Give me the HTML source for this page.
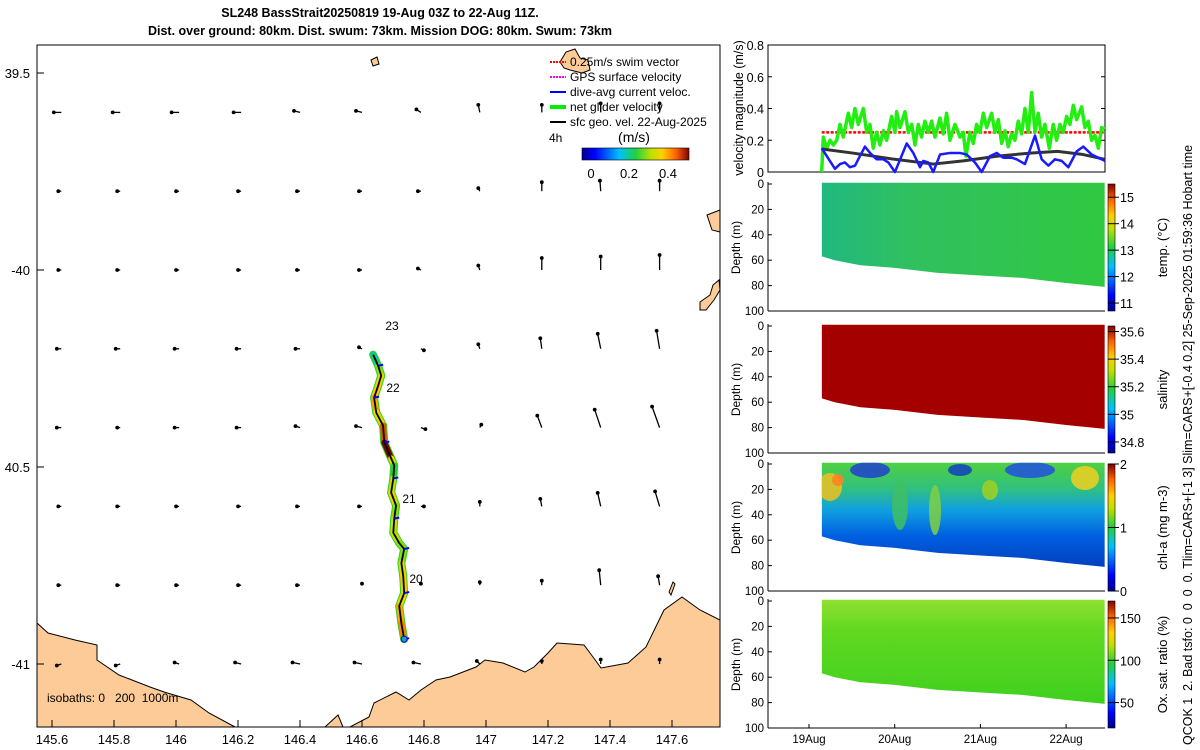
<!DOCTYPE html>
<html><head><meta charset="utf-8"><style>
body{margin:0;background:#fff}
svg{display:block;font-family:"Liberation Sans",sans-serif}
.pre{white-space:pre}
</style></head><body>
<svg id="root" width="1200" height="750" viewBox="0 0 1200 750">
<defs>
<linearGradient id="jetH" x1="0" x2="1" y1="0" y2="0">
<stop offset="0" stop-color="#00008f"/><stop offset="0.12" stop-color="#0000ff"/><stop offset="0.35" stop-color="#00c0ff"/><stop offset="0.5" stop-color="#20d040"/><stop offset="0.65" stop-color="#c0e000"/><stop offset="0.75" stop-color="#ffd000"/><stop offset="0.88" stop-color="#ff6000"/><stop offset="1" stop-color="#800000"/></linearGradient>
<linearGradient id="jetV" x1="0" x2="0" y1="1" y2="0">
<stop offset="0" stop-color="#00008f"/><stop offset="0.12" stop-color="#0000ff"/><stop offset="0.35" stop-color="#00c0ff"/><stop offset="0.5" stop-color="#20d040"/><stop offset="0.65" stop-color="#c0e000"/><stop offset="0.75" stop-color="#ffd000"/><stop offset="0.88" stop-color="#ff6000"/><stop offset="1" stop-color="#800000"/></linearGradient>
<linearGradient id="chlG" x1="0" x2="0" y1="0" y2="1">
<stop offset="0" stop-color="#50d040"/><stop offset="0.25" stop-color="#30c080"/><stop offset="0.45" stop-color="#10a0e0"/><stop offset="0.7" stop-color="#0060e0"/><stop offset="1" stop-color="#0040c0"/></linearGradient>
<linearGradient id="oxG" x1="0" x2="0" y1="0" y2="1">
<stop offset="0" stop-color="#90e030"/><stop offset="0.3" stop-color="#60d820"/><stop offset="1" stop-color="#40d020"/></linearGradient>
<linearGradient id="tempG" x1="0" x2="1" y1="0" y2="0">
<stop offset="0" stop-color="#20b880"/><stop offset="0.3" stop-color="#30c060"/><stop offset="1" stop-color="#30c840"/></linearGradient>
</defs>

<text x="380" y="17" text-anchor="middle" font-size="12.5" font-weight="bold">SL248 BassStrait20250819 19-Aug 03Z to 22-Aug 11Z.</text>
<text x="380" y="35" text-anchor="middle" font-size="12.5" font-weight="bold">Dist. over ground: 80km. Dist. swum: 73km. Mission DOG: 80km. Swum: 73km</text>
<text class="pre" transform="translate(1192,745) rotate(-90)" font-size="12.5">QCOK 1  2. Bad tsfo: 0  0  0  0. Tlim=CARS+[-1 3] Slim=CARS+[-0.4 0.2] 25-Sep-2025 01:59:36 Hobart time</text>

<g id="map">
<path fill="#fccb98" stroke="#000" stroke-width="1" d="M37,623 L48,633 L75,640 L97,645 L97,660 L119,675 L150,687 L164,692 L191,700 L209,713 L235,727 L37,727 Z"/>
<path fill="#fccb98" stroke="#000" stroke-width="1" d="M325,727 L338,715 L343,727 L350,727 L369,717 L374,703 L396,692 L409,700 L421,690 L436,680 L450,677 L476,667 L485,660 L503,663 L525,672 L534,667 L548,653 L557,643 L584,645 L593,657 L601,668 L628,663 L646,647 L664,610 L682,597 L700,610 L720,620 L720,727 Z"/>
<path fill="#fccb98" stroke="#000" d="M371,60 L377,57 L379,64 L373,66 Z"/>
<path fill="#fccb98" stroke="#000" d="M560,62 L566,52 L575,49 L580,58 L588,60 L590,70 L582,73 L570,70 L564,68 Z"/>
<path fill="#fccb98" stroke="#000" d="M707,215 L720,210 L720,232 L712,230 Z"/>
<path fill="#fccb98" stroke="#000" d="M700,302 L710,295 L713,285 L719,280 L720,290 L714,300 L706,310 L700,310 Z"/>
<path fill="#fccb98" stroke="#000" d="M669,592 L673,582 L675,584 L671,595 Z"/>
<rect x="37" y="45" width="683" height="682" fill="none" stroke="#000" stroke-width="1"/>
<g id="quiver"></g>
<g id="track"></g>
<g id="mapAxes"></g>
<text x="392" y="330" text-anchor="middle" font-size="12">23</text>
<text x="393" y="392" text-anchor="middle" font-size="12">22</text>
<text x="409" y="503" text-anchor="middle" font-size="12">21</text>
<text x="416" y="583" text-anchor="middle" font-size="12">20</text>
<text class="pre" x="47" y="702" font-size="12">isobaths: 0   200  1000m</text>
<g font-size="12">
<line x1="550" y1="62" x2="566" y2="62" stroke="#f00" stroke-width="2" stroke-dasharray="2 1"/><text x="570" y="66">0.25m/s swim vector</text>
<line x1="550" y1="77" x2="566" y2="77" stroke="#f0f" stroke-width="2" stroke-dasharray="2 1"/><text x="570" y="81">GPS surface velocity</text>
<line x1="550" y1="92" x2="566" y2="92" stroke="#00f" stroke-width="2"/><text x="570" y="96">dive-avg current veloc.</text>
<line x1="550" y1="107" x2="566" y2="107" stroke="#00ee00" stroke-width="4"/><text x="570" y="111">net glider velocity</text>
<line x1="550" y1="122" x2="566" y2="122" stroke="#000" stroke-width="2"/><text x="570" y="126">sfc geo. vel. 22-Aug-2025</text>
<text x="549" y="142">4h</text>
<text x="634" y="142" text-anchor="middle" font-size="14">(m/s)</text>
<rect x="582" y="148" width="107" height="12" fill="url(#jetH)" stroke="#000" stroke-width="0.6"/>
<text x="591" y="178" text-anchor="middle" font-size="13">0</text>
<text x="629" y="178" text-anchor="middle" font-size="13">0.2</text>
<text x="668" y="178" text-anchor="middle" font-size="13">0.4</text>
</g>
</g>

<g id="vel"></g>
<g id="sections"></g>
</svg>

<script>
const greenT=[0.148,0.167,0.206,0.245,0.284,0.323,0.362,0.40,0.459,0.498,0.536,0.575,0.634,0.673,0.711,0.75,0.789,0.828,0.867,0.906,0.964,1.003,1.023,1.062,1.12,1.159,1.198,1.237,1.275,1.314,1.353,1.392,1.431,1.47,1.528,1.567,1.606,1.645,1.703,1.762,1.8,1.832,1.878,1.917,1.956,1.995,2.034,2.073,2.131,2.17,2.209,2.248,2.287,2.325,2.364,2.403,2.442,2.481,2.52,2.559,2.598,2.637,2.675,2.714,2.753,2.804,2.85,2.889,2.928,2.967,3.006,3.045,3.084,3.123,3.181,3.22,3.259,3.298,3.337,3.376,3.414,3.453];
const greenV=[0,0.22,0.15,0.2,0.17,0.2,0.3,0.22,0.37,0.28,0.4,0.3,0.4,0.25,0.3,0.15,0.25,0.17,0.26,0.2,0.35,0.25,0.38,0.28,0.38,0.25,0.3,0.17,0.3,0.22,0.32,0.25,0.32,0.22,0.34,0.24,0.37,0.2,0.3,0.22,0.25,0.1,0.25,0.18,0.3,0.25,0.37,0.28,0.37,0.25,0.33,0.18,0.26,0.16,0.24,0.2,0.32,0.24,0.4,0.25,0.5,0.25,0.37,0.22,0.3,0.15,0.3,0.2,0.3,0.25,0.35,0.3,0.42,0.33,0.41,0.28,0.32,0.2,0.23,0.15,0.28,0.27];
const blueT=[0.148,0.303,0.362,0.42,0.478,0.537,0.575,0.653,0.712,0.79,0.867,0.926,1.003,1.14,1.217,1.295,1.334,1.392,1.45,1.529,1.645,1.762,1.84,1.937,2.015,2.112,2.19,2.267,2.365,2.423,2.52,2.637,2.715,2.793,2.87,2.948,3.026,3.123,3.2,3.299,3.376,3.454];
const blueV=[0.15,0.02,0.05,0.06,0.03,0.04,0.08,0.16,0.12,0.08,0.08,0.06,0.0,0.18,0.12,0.03,0.07,0.06,0.0,0.11,0.12,0.12,0.11,0.06,0.0,0.1,0.12,0.09,0.09,0.08,0.05,0.23,0.08,0.04,0.08,0.07,0.03,0.13,0.16,0.11,0.09,0.07];
const geoT=[0.15,0.5,1.0,1.45,1.8,2.2,2.6,2.9,3.2,3.45];
const geoV=[0.145,0.12,0.08,0.05,0.07,0.10,0.12,0.13,0.11,0.08];
const swimV=[0.25];
const velTicks=[0,0.2,0.4,0.6,0.8];
const dateTicks=[0,1,2,3];
const dateLabels=["19Aug","20Aug","21Aug","22Aug"];
const bottomT=[0.15,0.3,0.6,1.0,1.5,2.0,2.5,3.0,3.45];
const bottomD=[57,60,64,66,70,72,74,78,81];
const depthTicks=[0,20,40,60,80,100];
const trackLon=[146.636,146.652,146.662,146.652,146.639,146.646,146.668,146.672,146.694,146.704,146.701,146.694,146.71,146.704,146.701,146.72,146.736,146.727,146.733,146.736,146.72,146.727,146.736];
const trackLat=[-40.215,-40.243,-40.268,-40.294,-40.324,-40.362,-40.395,-40.438,-40.478,-40.496,-40.529,-40.565,-40.598,-40.631,-40.667,-40.693,-40.708,-40.744,-40.777,-40.820,-40.853,-40.896,-40.937];
const trackSpeed=[0.22,0.3,0.35,0.38,0.4,0.36,0.45,0.5,0.35,0.25,0.33,0.36,0.3,0.34,0.33,0.3,0.3,0.35,0.38,0.36,0.4,0.42,0.3];
const gridLon=[145.63,145.82,146.01,146.21,146.4,146.6,146.79,146.98,147.18,147.37,147.56];
const gridLat=[-39.6,-39.8,-40.0,-40.2,-40.4,-40.6,-40.8,-41.0];
const quivU=[
[-.05,-.05,-.05,-.05,-.04,-.04,-.03,-.01,0,0,0],
[-.02,-.02,-.02,-.02,-.02,-.02,-.02,-.01,0,-.005,0],
[-.02,-.02,-.02,-.02,-.02,-.02,-.02,-.01,0,0,0],
[-.03,-.03,-.03,-.03,-.03,-.02,.02,-.01,-.01,-.02,-.02],
[-.03,-.02,-.03,-.03,-.03,-.04,.03,.01,-.03,-.04,-.05],
[-.02,-.02,-.02,-.02,-.02,-.02,.02,0,-.01,-.02,-.03],
[-.02,-.02,-.02,-.02,-.02,0,0,0,0,-.01,-.01],
[-.03,-.03,-.03,-.04,-.05,-.05,-.05,-.02,0,0,0]];
const quivV=[
[0,0,0,0,.01,.01,.02,.05,.05,.06,.06],
[0,0,0,0,0,0,0,.02,.06,.07,.07],
[0,0,0,0,0,0,.01,.03,.08,.09,.1],
[0,0,0,0,0,.01,-.01,.03,.07,.1,.12],
[0,0,0,0,.01,.01,-.01,.02,.08,.12,.14],
[0,0,0,0,0,0,0,.03,.05,.09,.1],
[0,0,0,0,0,.01,.01,.02,.03,.1,.06],
[-.01,-.01,.01,.01,.01,.01,.01,.02,.02,.03,.03]];
const lonTicks=[145.6,145.8,146,146.2,146.4,146.6,146.8,147,147.2,147.4,147.6];
const lonLabels=["145.6","145.8","146","146.2","146.4","146.6","146.8","147","147.2","147.4","147.6"];
const latTicks=[-39.5,-40,-40.5,-41];
const latLabels=["39.5","-40","40.5","-41"];

const NS="http://www.w3.org/2000/svg";
function mk(tag,attrs,parent){const e=document.createElementNS(NS,tag);for(const k in attrs)e.setAttribute(k,attrs[k]);parent.appendChild(e);return e;}
const lonX=l=>238+(l-146.2)*310;
const latY=l=>73+(-39.5-l)*394;
const dayX=d=>809+d*85.7;
function jet(v){const s=[[0,0,0,143],[0.12,0,0,255],[0.35,0,192,255],[0.5,32,208,64],[0.65,192,224,0],[0.75,255,208,0],[0.88,255,96,0],[1,128,0,0]];v=Math.max(0,Math.min(1,v));for(let i=1;i<s.length;i++){if(v<=s[i][0]){const a=s[i-1],b=s[i],f=(v-a[0])/(b[0]-a[0]);return `rgb(${Math.round(a[1]+f*(b[1]-a[1]))},${Math.round(a[2]+f*(b[2]-a[2]))},${Math.round(a[3]+f*(b[3]-a[3]))})`;}}return "#800000";}

const ma=document.getElementById('mapAxes');
lonTicks.forEach((l,i)=>{const x=lonX(l);
 const t=mk('line',{x1:x,y1:727,x2:x,y2:720,stroke:'#000'},ma);
 
 
 const tx=mk('text',{x:x,y:744,'text-anchor':'middle','font-size':13},ma);tx.textContent=lonLabels[i];
 
 });
latTicks.forEach((l,i)=>{const y=latY(l);
 const t=mk('line',{x1:37,y1:y,x2:44,y2:y,stroke:'#000'},ma);
 
 
 const tx=mk('text',{x:30,y:y+5,'text-anchor':'end','font-size':13},ma);tx.textContent=latLabels[i];
 
 });

const qg=document.getElementById('quiver');const QS=150;
gridLat.forEach((la,r)=>gridLon.forEach((lo,c)=>{const x=lonX(lo),y=latY(la);const u=quivU[r][c],v=quivV[r][c];
 const x2=x+u*QS,y2=y-v*QS;
 const ln=mk('line',{x1:x,y1:y,x2:x2,y2:y2,stroke:'#000','stroke-width':1.3},qg);
 
 
 const hd=mk('circle',{cx:x2,cy:y2,r:1.9,fill:'#000'},qg);
 
 }));

const tg=document.getElementById('track');
for(let i=0;i<trackLon.length-1;i++){
 const seg=mk('line',{x1:lonX(trackLon[i]),y1:latY(trackLat[i]),x2:lonX(trackLon[i+1]),y2:latY(trackLat[i+1]),stroke:'#30d020','stroke-width':8,'stroke-linecap':'round'},tg);
 
 }
for(let i=0;i<trackLon.length-1;i++){
 const seg=mk('line',{x1:lonX(trackLon[i]),y1:latY(trackLat[i]),x2:lonX(trackLon[i+1]),y2:latY(trackLat[i+1]),stroke:jet(trackSpeed[i]/0.5),'stroke-width':6,'stroke-linecap':'round'},tg);
 
 }
const tp=trackLon.map((l,i)=>lonX(l)+','+latY(trackLat[i])).join(' ');
const tl=mk('polyline',{points:tp,fill:'none',stroke:'#000','stroke-width':1.8},tg);


for(let i=1;i<trackLon.length;i+=3){
 const b=mk('line',{x1:lonX(trackLon[i]),y1:latY(trackLat[i]),x2:lonX(trackLon[i])+5,y2:latY(trackLat[i])-1,stroke:'#00f','stroke-width':2},tg);
 
 }
const ep=mk('circle',{cx:lonX(trackLon[trackLon.length-1]),cy:latY(trackLat[trackLat.length-1]),r:3,fill:'#20a0a0',stroke:'#00f'},tg);



const vg=document.getElementById('vel');
const vy=v=>172-v/0.8*127;
const vf=mk('rect',{x:768,y:45,width:337,height:127,fill:'none',stroke:'#000'},vg);


velTicks.forEach(v=>{const y=vy(v);
 const t=mk('line',{x1:768,y1:y,x2:772,y2:y,stroke:'#000'},vg);
 
 
 const t2=mk('line',{x1:1105,y1:y,x2:1101,y2:y,stroke:'#000'},vg);
 
 
 const tx=mk('text',{x:764,y:y+5,'text-anchor':'end','font-size':12.5},vg);tx.textContent=String(v);
 
 });
const vl=mk('text',{transform:'translate(743,108) rotate(-90)','text-anchor':'middle','font-size':12.5},vg);vl.textContent='velocity magnitude (m/s)';


const sw=mk('line',{x1:dayX(greenT[0]),y1:vy(swimV[0]),x2:1105,y2:vy(swimV[0]),stroke:'#f00','stroke-width':2.5,'stroke-dasharray':'3 1.5'},vg);


const gl=mk('polyline',{points:greenT.map((t,i)=>dayX(t)+','+vy(greenV[i])).join(' '),fill:'none',stroke:'#22ee11','stroke-width':3.5,'stroke-linejoin':'round'},vg);


const kl=mk('polyline',{points:geoT.map((t,i)=>dayX(t)+','+vy(geoV[i])).join(' '),fill:'none',stroke:'#333','stroke-width':3,'stroke-linejoin':'round'},vg);


const bl=mk('polyline',{points:blueT.map((t,i)=>dayX(t)+','+vy(blueV[i])).join(' '),fill:'none',stroke:'#1a1aff','stroke-width':2.5,'stroke-linejoin':'round'},vg);



const sg=document.getElementById('sections');
const panels=[
 {top:184,fill:'url(#tempG)',name:'temperature',cbTicks:[15,14,13,12,11],cbMin:10.7,cbMax:15.5,label:'temp. (°C)'},
 {top:326,fill:'#a50000',name:'salinity',cbTicks:[35.6,35.4,35.2,35,34.8],cbMin:34.72,cbMax:35.64,label:'salinity'},
 {top:464,fill:'url(#chlG)',name:'chlorophyll',cbTicks:[2,1,0],cbMin:0,cbMax:2,label:'chl-a (mg m-3)'},
 {top:601,fill:'url(#oxG)',name:'oxygen',cbTicks:[150,100,50],cbMin:20,cbMax:170,label:'Ox. sat. ratio (%)'}];
const H=127;
panels.forEach((p,pi)=>{
 const dy=d=>p.top+d*H/100;
 const g=mk('g',{},sg);
 
 
 let pts=[dayX(bottomT[0])+','+dy(-1)];
 pts.push(dayX(bottomT[bottomT.length-1])+','+dy(-1));
 for(let i=bottomT.length-1;i>=0;i--)pts.push(dayX(bottomT[i])+','+dy(bottomD[i]));
 const poly=mk('polygon',{points:pts.join(' '),fill:p.fill},g);
 
 
 if(pi===2){
  const cp=mk('clipPath',{id:'clipChl'},g);mk('polygon',{points:pts.join(' ')},cp);
  const blobs=mk('g',{'clip-path':'url(#clipChl)'},g);
  
  
  [[830,487,12,14,'#f0c020'],[838,480,6,6,'#ff8020'],[1085,478,14,12,'#f0d020'],[870,470,20,8,'#2040d0'],[1030,470,25,8,'#2050e0'],[900,505,8,25,'#40c060'],[935,510,6,25,'#80d040'],[990,490,8,10,'#a0d020'],[960,470,12,6,'#1040c0']].forEach(b=>{
   const e=mk('ellipse',{cx:b[0],cy:b[1],rx:b[2],ry:b[3],fill:b[4],opacity:0.85},blobs);
   
   });
 }
 const fr=mk('line',{x1:768,y1:p.top-2,x2:768,y2:p.top+H,stroke:'#000'},g);
 
 
 const fb=mk('line',{x1:768,y1:p.top+H,x2:1105,y2:p.top+H,stroke:'#000'},g);
 
 
 depthTicks.forEach(d=>{
  const t=mk('line',{x1:768,y1:dy(d),x2:772,y2:dy(d),stroke:'#000'},g);
  
  
  const tx=mk('text',{x:764,y:dy(d)+4,'text-anchor':'end','font-size':11.5},g);tx.textContent=String(d);
  
  });
 const yl=mk('text',{transform:`translate(740,${p.top+H/2}) rotate(-90)`,'text-anchor':'middle','font-size':12},g);yl.textContent='Depth (m)';
 
 
 const cb=mk('rect',{x:1108,y:p.top,width:7,height:H,fill:'url(#jetV)',stroke:'#000','stroke-width':0.6},g);
 
 
 p.cbTicks.forEach(v=>{const y=p.top+H-(v-p.cbMin)/(p.cbMax-p.cbMin)*H;
  const t=mk('line',{x1:1108,y1:y,x2:1119,y2:y,stroke:'#000'},g);
  
  
  const tx=mk('text',{x:1120,y:y+5,'font-size':12.5},g);tx.textContent=String(v);
  
  });
 const cl=mk('text',{transform:`translate(1167,${p.top+H/2}) rotate(-90)`,'text-anchor':'middle','font-size':13},g);cl.textContent=p.label;
 
 
});
dateTicks.forEach((d,i)=>{const x=dayX(d);
 const t=mk('line',{x1:x,y1:728,x2:x,y2:724,stroke:'#000'},sg);
 
 
 const tx=mk('text',{x:x,y:743,'text-anchor':'middle','font-size':11.5},sg);tx.textContent=dateLabels[i];
 
 });
</script>
</body></html>
